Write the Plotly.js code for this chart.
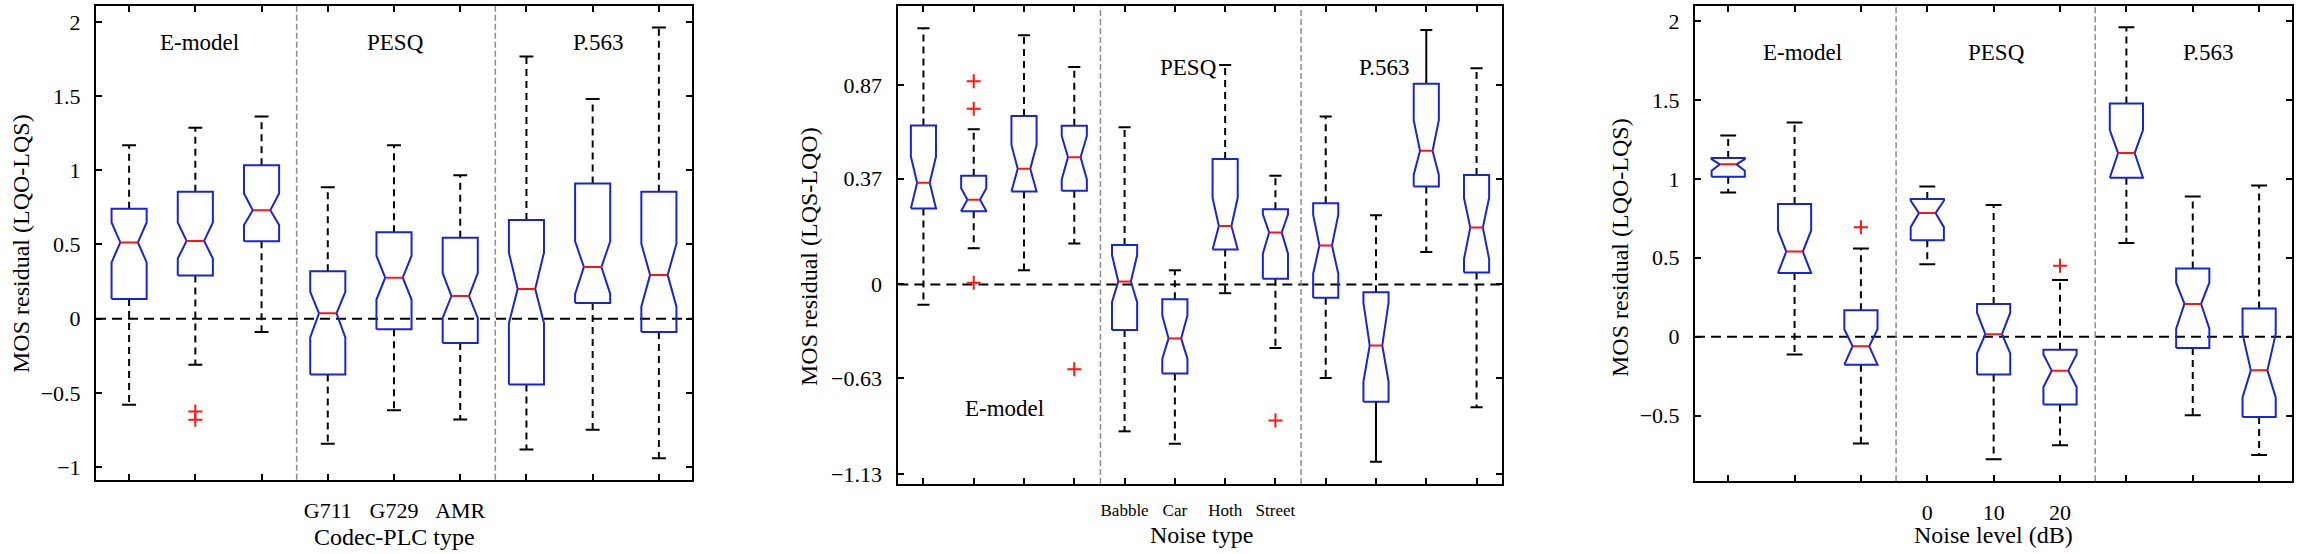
<!DOCTYPE html>
<html><head><meta charset="utf-8">
<script src="https://cdn.plot.ly/plotly-3.0.1.min.js"></script>
<style>html,body{margin:0;padding:0;background:#fff}#chart{width:2299px;height:554px}</style>
</head><body><div id="chart"></div>
<script>
// ---------- Panel 1: Codec-PLC type (MOS residual LQO-LQS) ----------
const p1TickLabels = ['', '', '', 'G711', 'G729', 'AMR', '', '', ''];
const p1Upper   = [1.169, 1.286, 1.362, 0.886, 1.169, 0.967, 1.767, 1.481, 1.962];
const p1Q3      = [0.740, 0.855, 1.033, 0.319, 0.583, 0.545, 0.664, 0.910, 0.855];
const p1NotchHi = [0.648, 0.648, 0.843, 0.181, 0.424, 0.307, 0.445, 0.521, 0.505];
const p1Median  = [0.514, 0.524, 0.731, 0.036, 0.276, 0.152, 0.200, 0.348, 0.295];
const p1NotchLo = [0.379, 0.405, 0.631, -0.126, 0.129, 0.005, -0.031, 0.167, 0.081];
const p1Q1      = [0.133, 0.290, 0.521, -0.376, -0.071, -0.164, -0.443, 0.105, -0.090];
const p1Lower   = [-0.581, -0.310, -0.090, -0.843, -0.617, -0.679, -0.881, -0.748, -0.940];
const p1OutlierBox = [2, 2];
const p1OutlierVal = [-0.626, -0.681];

// ---------- Panel 2: Noise type (MOS residual LQS-LQO) ----------
const p2TickLabels = ['', '', '', '', 'Babble', 'Car', 'Hoth', 'Street', '', '', '', ''];
const p2YTickText = ['0.87', '0.37', '0', '\u22120.63', '\u22121.13'];
const p2YTickPos  = [1.046, 0.554, 0, -0.493, -0.993];
const p2Upper   = [1.343, 0.813, 1.306, 1.139, 0.824, 0.074, 1.150, 0.570, 0.880, 0.363, 1.333, 1.133];
const p2Q3      = [0.833, 0.570, 0.883, 0.831, 0.207, -0.078, 0.657, 0.394, 0.426, -0.041, 1.052, 0.574];
const p2NotchHi = [0.670, 0.504, 0.731, 0.778, 0.154, -0.163, 0.454, 0.367, 0.365, -0.096, 0.861, 0.454];
const p2Median  = [0.533, 0.444, 0.606, 0.667, 0.015, -0.283, 0.306, 0.272, 0.204, -0.320, 0.700, 0.298];
const p2NotchLo = [0.398, 0.385, 0.487, 0.550, -0.093, -0.389, 0.183, 0.161, 0.056, -0.509, 0.574, 0.133];
const p2Q1      = [0.398, 0.383, 0.487, 0.491, -0.239, -0.467, 0.183, 0.030, -0.070, -0.615, 0.513, 0.063];
const p2Lower   = [-0.107, 0.189, 0.074, 0.215, -0.770, -0.835, -0.046, -0.333, -0.491, -0.930, 0.170, -0.644];
const p2OutlierBox = [2, 2, 2, 4, 8];
const p2OutlierVal = [1.065, 0.920, 0.009, -0.444, -0.713];

// ---------- Panel 3: Noise level (dB) (MOS residual LQO-LQS) ----------
const p3TickLabels = ['', '', '', '0', '10', '20', '', '', ''];
const p3Upper   = [1.275, 1.356, 0.559, 0.951, 0.834, 0.360, 1.960, 0.888, 0.957];
const p3Q3      = [1.132, 0.841, 0.168, 0.872, 0.208, -0.083, 1.477, 0.432, 0.179];
const p3NotchHi = [1.125, 0.673, 0.047, 0.861, 0.152, -0.112, 1.309, 0.342, 0.018];
const p3Median  = [1.092, 0.539, -0.060, 0.783, 0.016, -0.215, 1.163, 0.208, -0.213];
const p3NotchLo = [1.051, 0.403, -0.177, 0.694, -0.105, -0.318, 1.007, 0.051, -0.385];
const p3Q1      = [1.013, 0.403, -0.177, 0.611, -0.239, -0.430, 1.007, -0.072, -0.508];
const p3Lower   = [0.913, -0.112, -0.676, 0.459, -0.776, -0.687, 0.593, -0.497, -0.749];
const p3OutlierBox = [3, 6];
const p3OutlierVal = [0.694, 0.450];

// Group labels
const groupNames = ['E-model', 'PESQ', 'P.563'];

// ---------- styling / layout (not data) ----------
const FONT = 'Liberation Serif, Times New Roman, serif';
const BLUE = 'rgb(25,35,215)';
const RED = 'rgb(255,20,20)';
const W = 2299, H = 554;

const panels = [
  {up:p1Upper,q3:p1Q3,nHi:p1NotchHi,med:p1Median,nLo:p1NotchLo,q1:p1Q1,lo:p1Lower,oB:p1OutlierBox,oV:p1OutlierVal,
   ticks:p1TickLabels, halfW:0.265, capHalf:0.105, solid:[],
   px:[96,692], py:[6,479.8], yr:[-1.086,2.107], sep:[3.53,6.53],
   groupPos:[[2.06,1.862],[5.02,1.862],[8.09,1.862]], tickFont:22, ystand:9, xstand:10,
   xTitle:'Codec-PLC type', yTitle:'MOS residual (LQO-LQS)', xTitlePos:[394,537], yTitlePos:[21,244]},
  {up:p2Upper,q3:p2Q3,nHi:p2NotchHi,med:p2Median,nLo:p2NotchLo,q1:p2Q1,lo:p2Lower,oB:p2OutlierBox,oV:p2OutlierVal,
   ticks:p2TickLabels, halfW:0.25, capHalf:0.12, solid:[[10,'lo'],[11,'up']],
   px:[898.3,1501.7], py:[6.4,484], yr:[-1.046,1.457], sep:[4.52,8.51],
   groupPos:[[2.62,-0.652],[6.28,1.135],[10.16,1.135]], tickFont:17, ystand:10, xstand:10,
   yTickPos:p2YTickPos, yTickText:p2YTickText,
   xTitle:'Noise type', yTitle:'MOS residual (LQS-LQO)', xTitlePos:[1201,535], yTitlePos:[809,257]},
  {up:p3Upper,q3:p3Q3,nHi:p3NotchHi,med:p3Median,nLo:p3NotchLo,q1:p3Q1,lo:p3Lower,oB:p3OutlierBox,oV:p3OutlierVal,
   ticks:p3TickLabels, halfW:0.25, capHalf:0.12, solid:[],
   px:[1695,2292.3], py:[6.4,481.2], yr:[-0.915,2.092], sep:[3.53,6.53],
   groupPos:[[2.12,1.801],[5.05,1.801],[8.24,1.801]], tickFont:22, ystand:9, xstand:10,
   xTitle:'Noise level (dB)', yTitle:'MOS residual (LQO-LQS)', xTitlePos:[1993,535], yTitlePos:[1620,248]}
];

const traces = [], shapes = [], annotations = [];
const layout = {
  width: W, height: H, margin:{l:0,r:0,t:0,b:0}, showlegend:false,
  paper_bgcolor:'#fff', plot_bgcolor:'#fff', hovermode:false,
  font:{family:FONT, size:22, color:'#000'}
};

panels.forEach((P, k) => {
  const sx = k === 0 ? '' : String(k+1);
  const xa = 'x'+sx, ya = 'y'+sx;
  const n = P.med.length;
  const bx=[],by=[],mx=[],my=[],dx=[],dy=[],sxs=[],sys=[],cx=[],cy=[],ox=[],oy=[];
  const h = P.halfW, nh = h*0.5, c = P.capHalf;
  const isSolid = (i, part) => P.solid.some(s => s[0] === i+1 && s[1] === part);
  for (let i=0;i<n;i++){
    const x = i+1;
    const q1 = P.q1[i], q3 = P.q3[i], m = P.med[i];
    const nLo = Math.max(q1, P.nLo[i]), nHi = Math.min(q3, P.nHi[i]);
    bx.push(x-h,x-h,x-nh,x-h,x-h,x+h,x+h,x+nh,x+h,x+h,x-h,null);
    by.push(q1,nLo,m,nHi,q3,q3,nHi,m,nLo,q1,q1,null);
    mx.push(x-nh,x+nh,null); my.push(m,m,null);
    if (isSolid(i,'up')) { sxs.push(x,x,null); sys.push(q3,P.up[i],null); }
    else { dx.push(x,x,null); dy.push(q3,P.up[i],null); }
    if (isSolid(i,'lo')) { sxs.push(x,x,null); sys.push(q1,P.lo[i],null); }
    else { dx.push(x,x,null); dy.push(q1,P.lo[i],null); }
    cx.push(x-c,x+c,null,x-c,x+c,null); cy.push(P.up[i],P.up[i],null,P.lo[i],P.lo[i],null);
  }
  P.oB.forEach((b,j)=>{ ox.push(b); oy.push(P.oV[j]); });
  const base = {xaxis:xa, yaxis:ya, hoverinfo:'skip', type:'scatter'};
  traces.push(Object.assign({x:dx,y:dy,mode:'lines',line:{color:'#000',width:2,dash:'7px,5px'}},base));
  traces.push(Object.assign({x:sxs,y:sys,mode:'lines',line:{color:'#000',width:2}},base));
  traces.push(Object.assign({x:cx,y:cy,mode:'lines',line:{color:'#000',width:2}},base));
  traces.push(Object.assign({x:bx,y:by,mode:'lines',line:{color:BLUE,width:2}},base));
  traces.push(Object.assign({x:mx,y:my,mode:'lines',line:{color:RED,width:2}},base));
  traces.push(Object.assign({x:ox,y:oy,mode:'markers',marker:{symbol:'cross-thin',size:10,line:{color:RED,width:2}}},base));

  const xkey = 'xaxis'+sx, ykey = 'yaxis'+sx;
  const tv = P.ticks.map((_,i)=>i+1);
  layout[xkey] = {
    domain:[P.px[0]/W, P.px[1]/W], range:[0.5, n+0.5], anchor:ya,
    tickmode:'array', tickvals:tv, ticktext:P.ticks, ticks:'inside', ticklen:6, tickwidth:2, tickcolor:'#000',
    showline:true, linecolor:'#000', linewidth:2, mirror:'ticks', showgrid:false, zeroline:false,
    tickfont:{family:FONT,size:P.tickFont,color:'#000'}, ticklabelstandoff:P.xstand, fixedrange:true
  };
  const yax = {
    domain:[1-P.py[1]/H, 1-P.py[0]/H], range:P.yr, anchor:xa,
    ticks:'inside', ticklen:6, tickwidth:2, tickcolor:'#000',
    showline:true, linecolor:'#000', linewidth:2, mirror:'ticks', showgrid:false, zeroline:false,
    tickfont:{family:FONT,size:22,color:'#000'}, ticklabelstandoff:P.ystand, fixedrange:true
  };
  if (P.yTickPos) { yax.tickmode='array'; yax.tickvals=P.yTickPos; yax.ticktext=P.yTickText; }
  else { yax.tickmode='linear'; yax.tick0=0; yax.dtick=0.5; }
  layout[ykey] = yax;

  shapes.push({type:'line', xref:xa+' domain', yref:ya, x0:0, x1:1, y0:0, y1:0, line:{color:'#000',width:2,dash:'10px,6px'}, layer:'below'});
  P.sep.forEach(s => shapes.push({type:'line', xref:xa, yref:ya+' domain', x0:s, x1:s, y0:0, y1:1, line:{color:'#8c8c8c',width:1.5,dash:'6px,3px'}, layer:'below'}));

  groupNames.forEach((g,j)=>annotations.push({text:g, x:P.groupPos[j][0], y:P.groupPos[j][1], xref:xa, yref:ya, showarrow:false, font:{family:FONT,size:23,color:'#000'}}));
  annotations.push({text:P.xTitle, x:P.xTitlePos[0]/W, y:1-P.xTitlePos[1]/H, xref:'paper', yref:'paper', showarrow:false, xanchor:'center', yanchor:'middle', font:{family:FONT,size:24,color:'#000'}});
  annotations.push({text:P.yTitle, x:P.yTitlePos[0]/W, y:1-P.yTitlePos[1]/H, xref:'paper', yref:'paper', showarrow:false, textangle:-90, xanchor:'center', yanchor:'middle', font:{family:FONT,size:24,color:'#000'}});
});

layout.shapes = shapes;
layout.annotations = annotations;
Plotly.newPlot('chart', traces, layout, {staticPlot:true, displayModeBar:false});
</script></body></html>
